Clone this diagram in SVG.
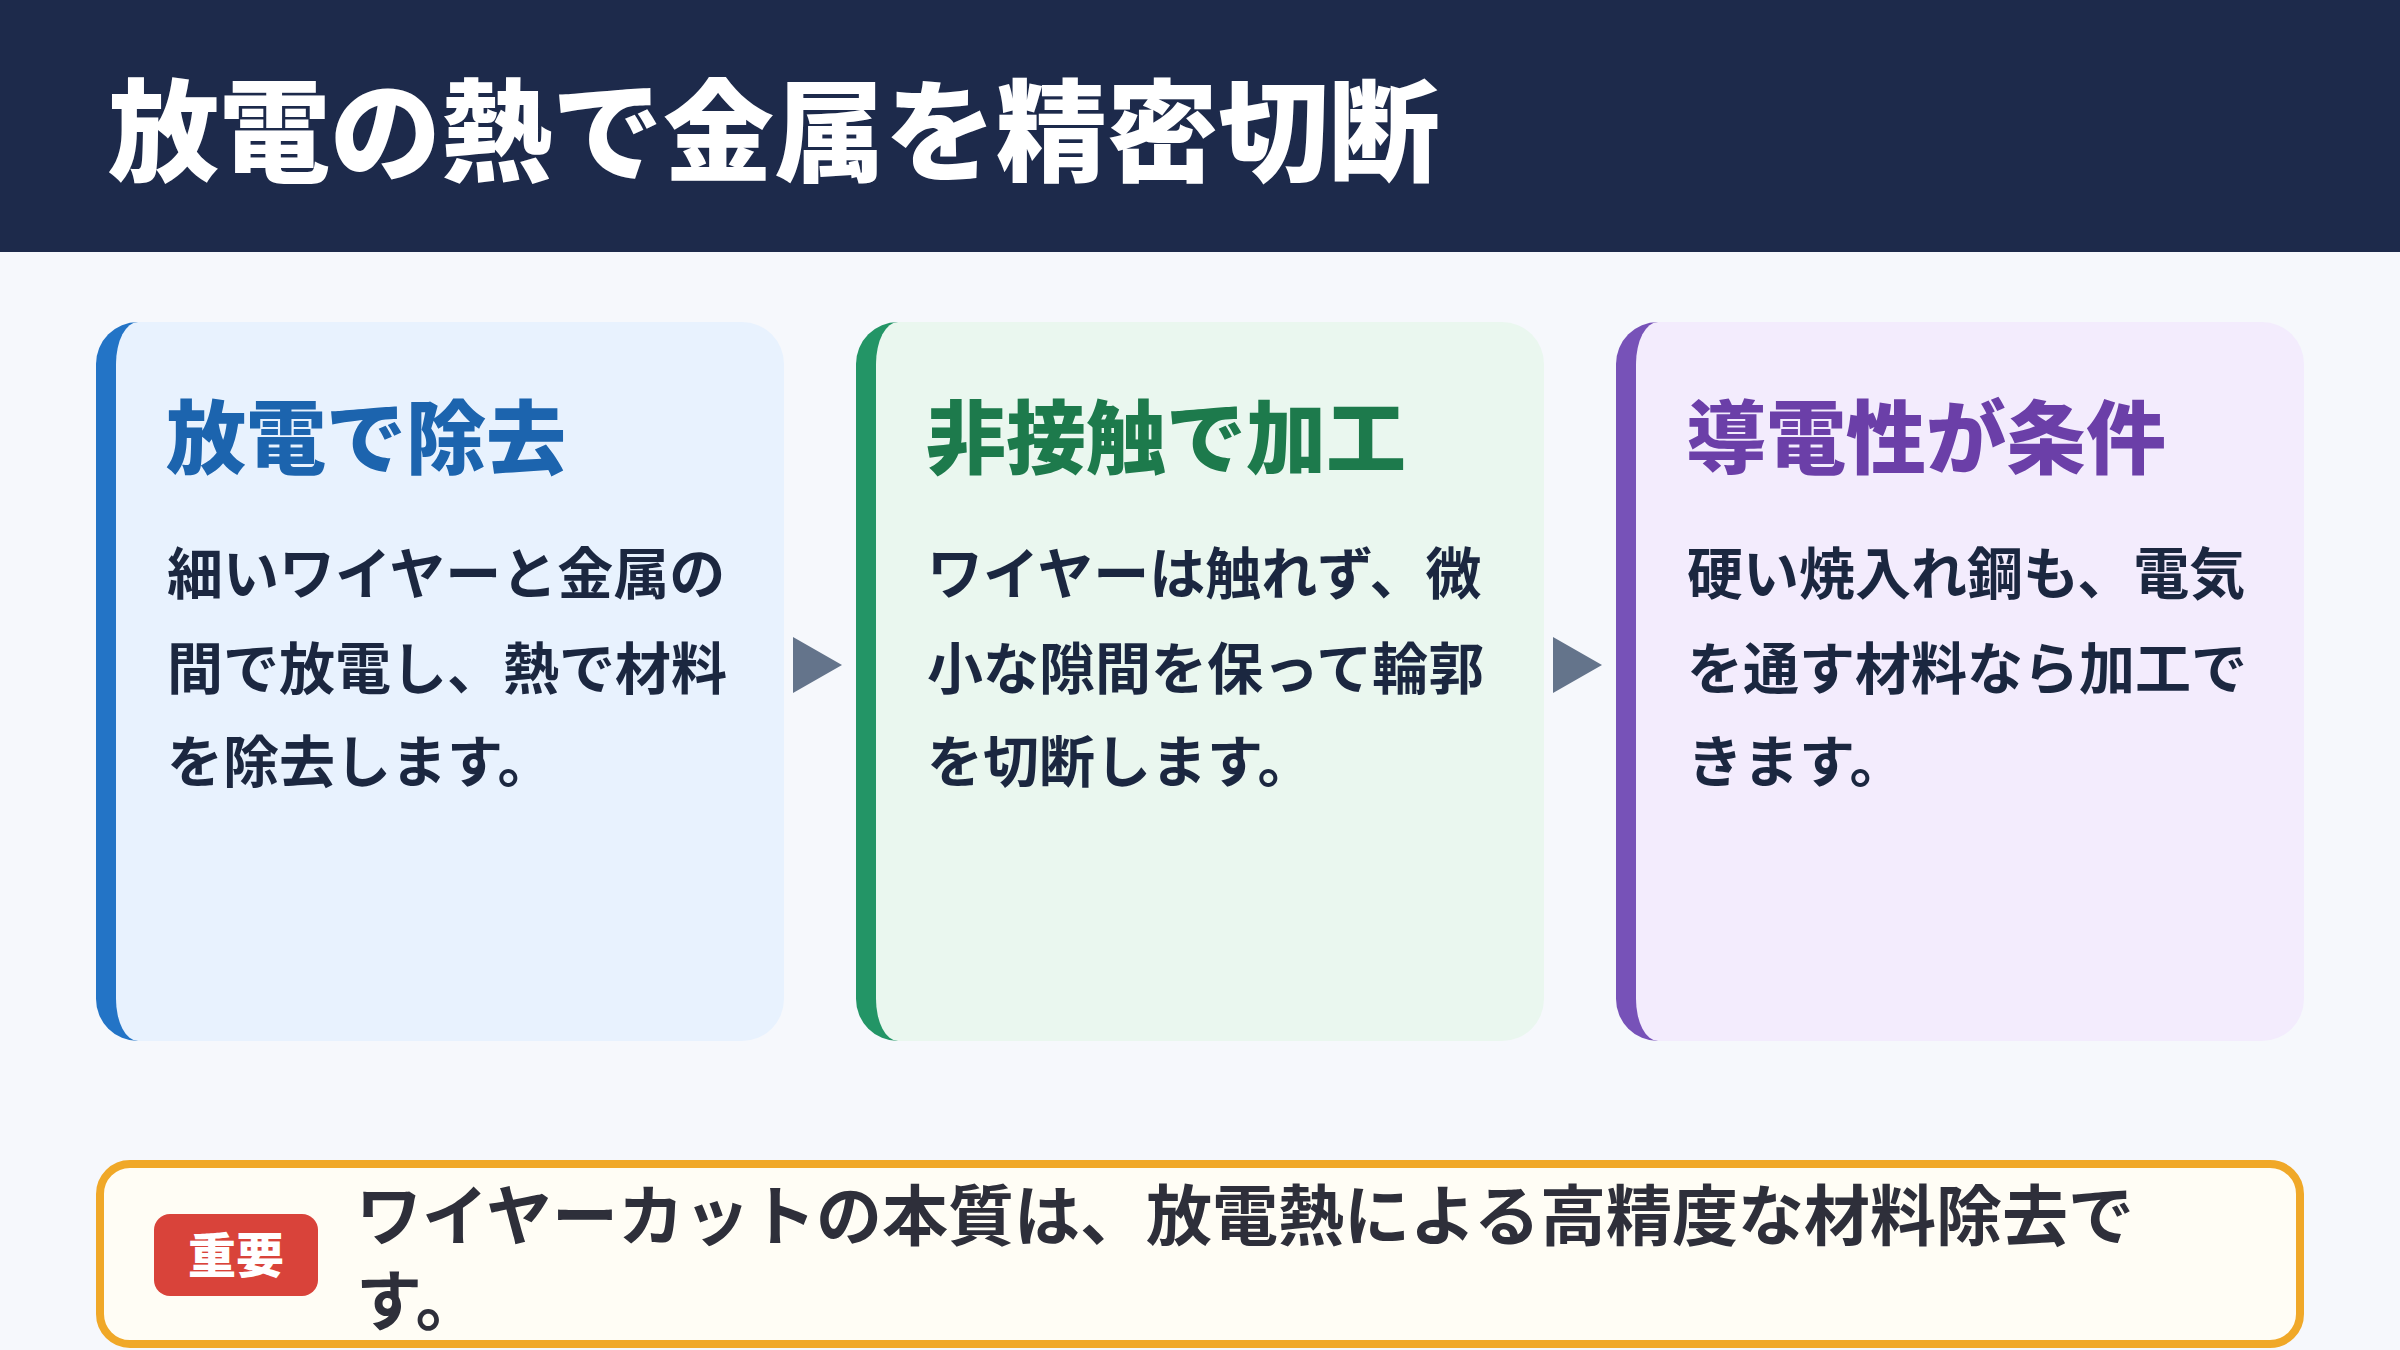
<svg xmlns="http://www.w3.org/2000/svg" width="2400" height="1350" viewBox="0 0 2400 1350">
<style>
.jp{font-family:"Noto Sans CJK JP","Noto Sans CJK SC",sans-serif}
.h1{font-size:111px;font-weight:900;fill:#ffffff}
.ct{font-size:80px;font-weight:900}
.body{font-size:56px;font-weight:700;fill:#1b2740}
.note{font-size:66px;font-weight:700;fill:#2e2f3a}
.badge{font-size:48px;font-weight:900;fill:#ffffff}
.arrow{fill:#64748b}
</style>
<rect x="0" y="0" width="2400" height="1350" fill="#f6f8fc"/>
<g id="header">
<rect x="0" y="0" width="2400" height="252" fill="#1d2a4b"/>
<text class="jp h1" x="108" y="173">放電の熱で金属を精密切断</text>
</g>
<g id="card1">
<rect x="96" y="322" width="120" height="719" rx="42" ry="42" fill="#2374c6"/>
<path d="M138 322 H742 A42 42 0 0 1 784 364 V999 A42 42 0 0 1 742 1041 H138 A22 42 0 0 1 116 999 V364 A22 42 0 0 1 138 322 Z" fill="#e8f2fe"/>
<text class="jp ct" x="166" y="467" fill="#1c64ae">放電で除去</text>
<text class="jp body" x="167" y="594">細いワイヤーと金属の</text>
<text class="jp body" x="167" y="689">間で放電し、熱で材料</text>
<text class="jp body" x="167" y="782">を除去します。</text>
</g>
<g id="card2">
<rect x="856" y="322" width="120" height="719" rx="42" ry="42" fill="#239566"/>
<path d="M898 322 H1502 A42 42 0 0 1 1544 364 V999 A42 42 0 0 1 1502 1041 H898 A22 42 0 0 1 876 999 V364 A22 42 0 0 1 898 322 Z" fill="#eaf7ef"/>
<text class="jp ct" x="926" y="467" fill="#1d7a4c">非接触で加工</text>
<text class="jp body" x="927" y="594">ワイヤーは触れず、微</text>
<text class="jp body" x="927" y="689">小な隙間を保って輪郭</text>
<text class="jp body" x="927" y="782">を切断します。</text>
</g>
<g id="card3">
<rect x="1616" y="322" width="120" height="719" rx="42" ry="42" fill="#7752b8"/>
<path d="M1658 322 H2262 A42 42 0 0 1 2304 364 V999 A42 42 0 0 1 2262 1041 H1658 A22 42 0 0 1 1636 999 V364 A22 42 0 0 1 1658 322 Z" fill="#f3ecfd"/>
<text class="jp ct" x="1686" y="467" fill="#6b3fa8">導電性が条件</text>
<text class="jp body" x="1687" y="594">硬い焼入れ鋼も、電気</text>
<text class="jp body" x="1687" y="689">を通す材料なら加工で</text>
<text class="jp body" x="1687" y="782">きます。</text>
</g>
<g id="connectors">
<polygon class="arrow" points="793,637 842,665 793,693"/>
<polygon class="arrow" points="1553,637 1602,665 1553,693"/>
</g>
<g id="note">
<rect x="100" y="1164" width="2200" height="180" rx="30" ry="30" fill="#fffdf5" stroke="#f0a828" stroke-width="8"/>
<rect x="154" y="1214" width="164" height="82" rx="16" ry="16" fill="#d9433a"/>
<text class="jp badge" x="236" y="1273" text-anchor="middle">重要</text>
<text class="jp note" x="356" y="1240">ワイヤーカットの本質は、放電熱による高精度な材料除去で</text>
<text class="jp note" x="356" y="1325">す。</text>
</g>
</svg>
